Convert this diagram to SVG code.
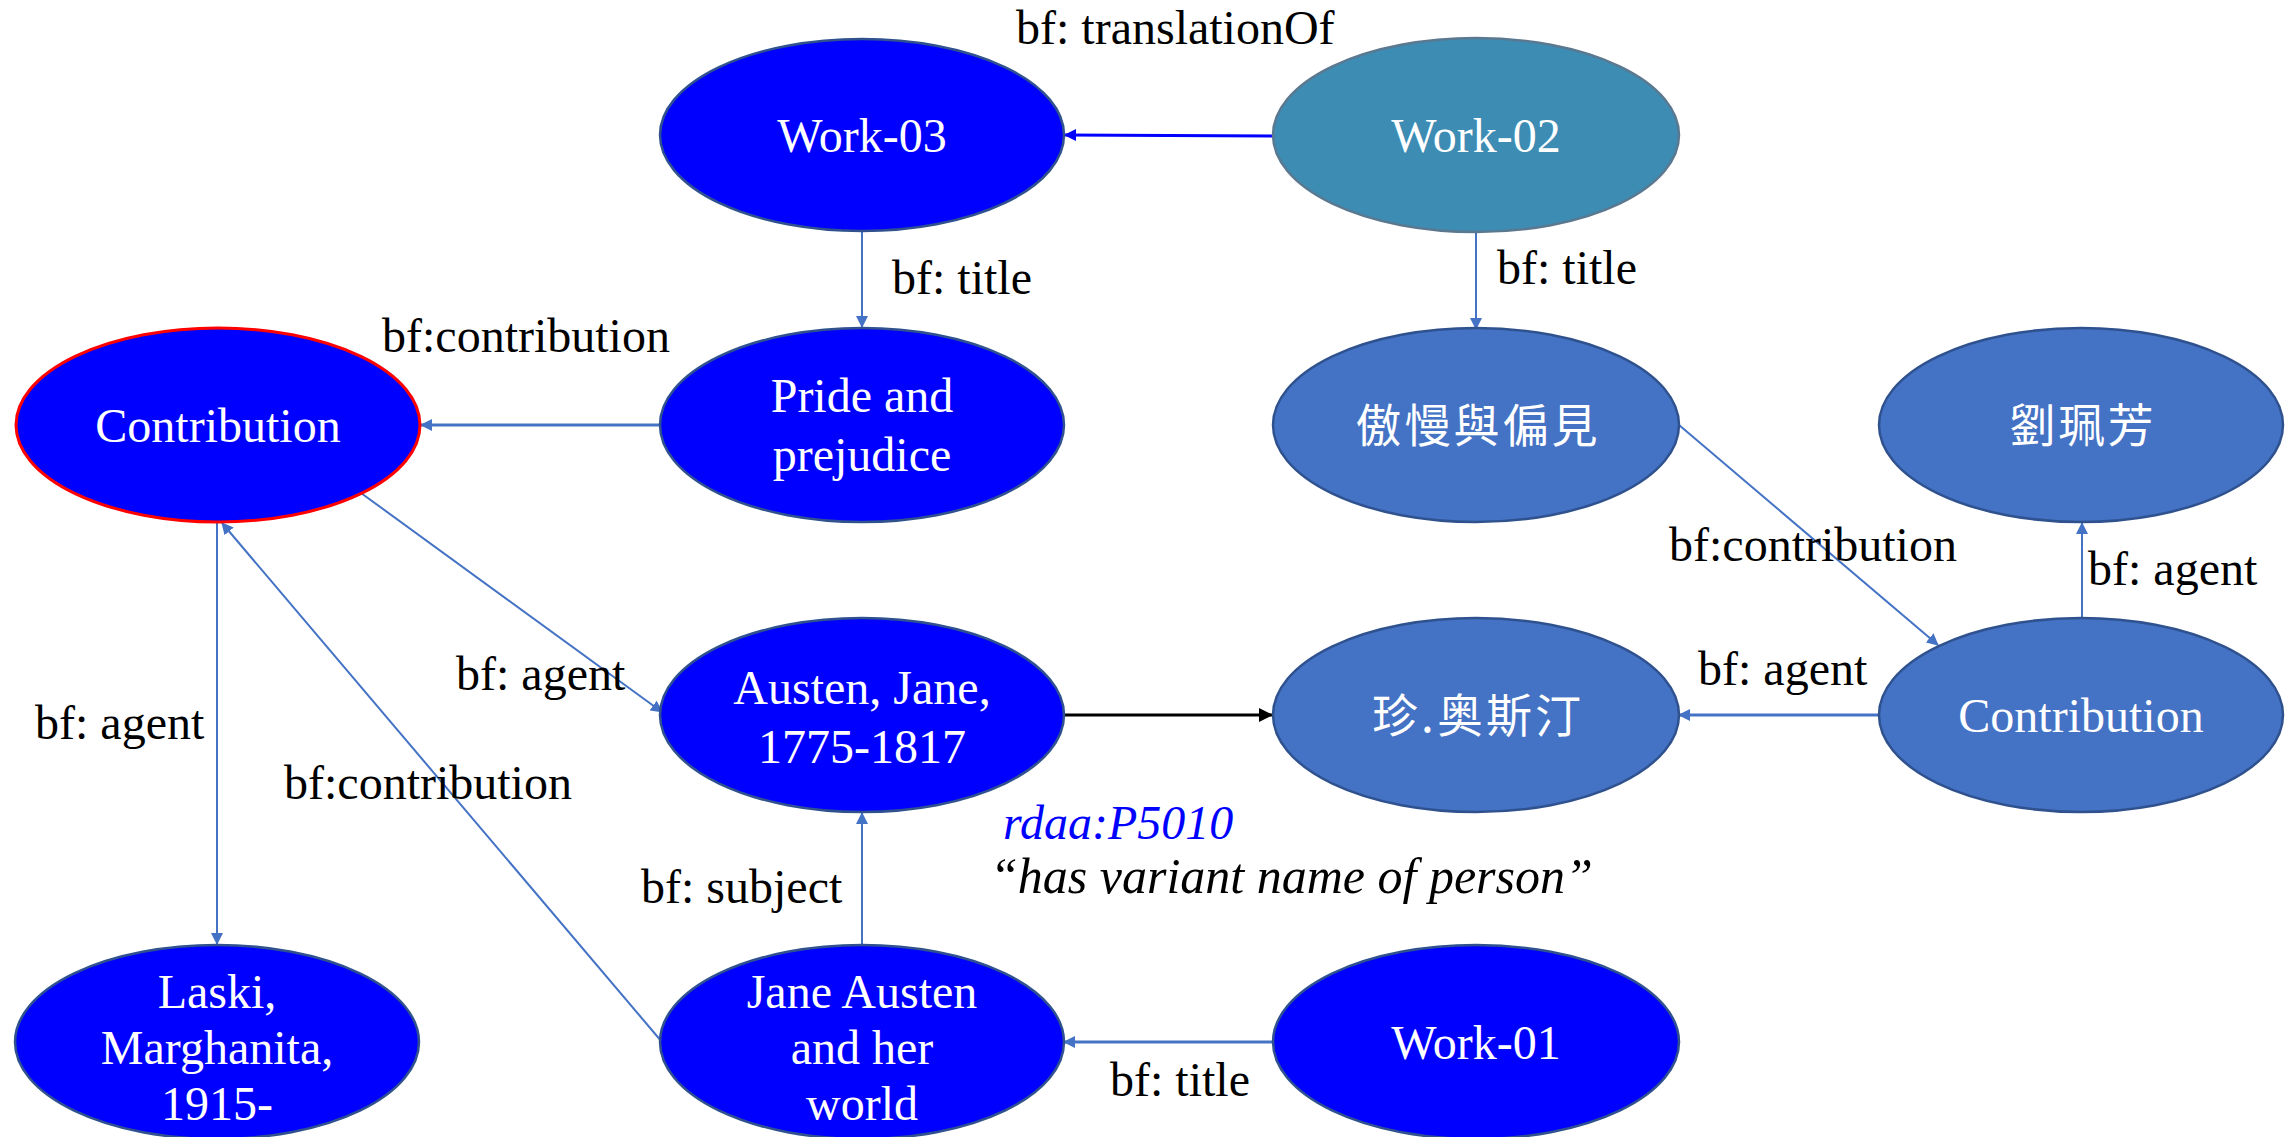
<svg xmlns="http://www.w3.org/2000/svg" width="2285" height="1137" viewBox="0 0 2285 1137">
<style>
.n{stroke-width:2.5}
.blue{fill:#0000FF;stroke:#2F528F}
.red{fill:#0000FF;stroke:#FF0000;stroke-width:3}
.teal{fill:#3C8CB4;stroke:#5A7890}
.mid{fill:#4472C4;stroke:#2F528F}
.t{font-family:"Liberation Serif","Times New Roman",serif;font-size:48px;fill:#FFFFFF;text-anchor:middle}
.c{font-family:"Noto Sans CJK TC","Noto Sans CJK SC",sans-serif;font-size:46px;fill:#FFFFFF;text-anchor:middle;letter-spacing:3px}
.l{font-family:"Liberation Serif","Times New Roman",serif;font-size:48px;fill:#000000}
.e{fill:none;stroke:#4472C4;stroke-width:2}
.eh{fill:none;stroke:#4472C4;stroke-width:3}
</style>
<defs>
<marker id="a" markerWidth="12" markerHeight="12" refX="11" refY="6" orient="auto" markerUnits="userSpaceOnUse">
<path d="M0,0 L12,6 L0,12 Z" fill="#4472C4"/>
</marker>
<marker id="ab" markerWidth="12" markerHeight="12" refX="11" refY="6" orient="auto" markerUnits="userSpaceOnUse">
<path d="M0,0 L12,6 L0,12 Z" fill="#0000FF"/>
</marker>
<marker id="ak" markerWidth="14" markerHeight="14" refX="13" refY="7" orient="auto" markerUnits="userSpaceOnUse">
<path d="M0,0 L14,7 L0,14 Z" fill="#000000"/>
</marker>
</defs>
<g id="connectors">
<line x1="1273" y1="136" x2="1065" y2="135" stroke="#0000FF" stroke-width="3" marker-end="url(#ab)"/>
<line class="e" x1="862" y1="231" x2="862" y2="327" marker-end="url(#a)"/>
<line class="e" x1="1476" y1="233" x2="1476" y2="329" marker-end="url(#a)"/>
<line class="eh" x1="660" y1="425" x2="421" y2="425" marker-end="url(#a)"/>
<line class="e" x1="361" y1="493" x2="662" y2="712" marker-end="url(#a)"/>
<line class="e" x1="217" y1="522" x2="217" y2="944" marker-end="url(#a)"/>
<line class="e" x1="662" y1="1042" x2="222" y2="523" marker-end="url(#a)"/>
<line class="e" x1="862" y1="945" x2="862" y2="813" marker-end="url(#a)"/>
<line class="eh" x1="1273" y1="1042" x2="1064" y2="1042" marker-end="url(#a)"/>
<line x1="1064" y1="715" x2="1272" y2="715" stroke="#000000" stroke-width="3" marker-end="url(#ak)"/>
<line class="e" x1="1679" y1="425" x2="1938" y2="645" marker-end="url(#a)"/>
<line class="e" x1="2082" y1="618" x2="2082" y2="523" marker-end="url(#a)"/>
<line class="eh" x1="1879" y1="715" x2="1679" y2="715" marker-end="url(#a)"/>
</g>
<g id="node-work03"><ellipse class="n blue" cx="862" cy="135" rx="202" ry="96"/><text class="t" x="862" y="152">Work-03</text></g>
<g id="node-work02"><ellipse class="n teal" cx="1476" cy="135" rx="203" ry="97"/><text class="t" x="1476" y="152">Work-02</text></g>
<g id="node-contribution-left"><ellipse class="red" cx="218" cy="425" rx="202" ry="97"/><text class="t" x="218" y="442">Contribution</text></g>
<g id="node-pride"><ellipse class="n blue" cx="862" cy="425" rx="202" ry="97"/><text class="t" x="862" y="412">Pride and</text><text class="t" x="862" y="471">prejudice</text></g>
<g id="node-aoman"><ellipse class="n mid" cx="1476" cy="425" rx="203" ry="97"/><text class="c" x="1478" y="442">傲慢與偏見</text></g>
<g id="node-liu"><ellipse class="n mid" cx="2081" cy="425" rx="202" ry="97"/><text class="c" x="2083" y="442">劉珮芳</text></g>
<g id="node-austen"><ellipse class="n blue" cx="862" cy="715" rx="202" ry="97"/><text class="t" x="862" y="704">Austen, Jane,</text><text class="t" x="862" y="763">1775-1817</text></g>
<g id="node-zhen"><ellipse class="n mid" cx="1476" cy="715" rx="203" ry="97"/><text class="c" x="1478" y="732">珍.奥斯汀</text></g>
<g id="node-contribution-right"><ellipse class="n mid" cx="2081" cy="715" rx="202" ry="97"/><text class="t" x="2081" y="732">Contribution</text></g>
<g id="node-laski"><ellipse class="n blue" cx="217" cy="1042" rx="202" ry="97"/><text class="t" x="217" y="1008">Laski,</text><text class="t" x="217" y="1064">Marghanita,</text><text class="t" x="217" y="1120">1915-</text></g>
<g id="node-janeworld"><ellipse class="n blue" cx="862" cy="1042" rx="202" ry="97"/><text class="t" x="862" y="1008">Jane Austen</text><text class="t" x="862" y="1064">and her</text><text class="t" x="862" y="1120">world</text></g>
<g id="node-work01"><ellipse class="n blue" cx="1476" cy="1042" rx="203" ry="97"/><text class="t" x="1476" y="1059">Work-01</text></g>
<g id="labels">
<text class="l" x="1016" y="44">bf: translationOf</text>
<text class="l" x="892" y="294">bf: title</text>
<text class="l" x="1497" y="284">bf: title</text>
<text class="l" x="382" y="352">bf:contribution</text>
<text class="l" x="1669" y="561">bf:contribution</text>
<text class="l" x="2088" y="585">bf: agent</text>
<text class="l" x="1698" y="685">bf: agent</text>
<text class="l" x="456" y="690">bf: agent</text>
<text class="l" x="35" y="739">bf: agent</text>
<text class="l" x="284" y="799">bf:contribution</text>
<text class="l" x="1003" y="839" font-style="italic" style="fill:#0000FF">rdaa:P5010</text>
<text class="l" x="990" y="893" font-style="italic" style="font-size:50px">“has variant name of person”</text>
<text class="l" x="641" y="903">bf: subject</text>
<text class="l" x="1110" y="1096">bf: title</text>
</g>
</svg>
